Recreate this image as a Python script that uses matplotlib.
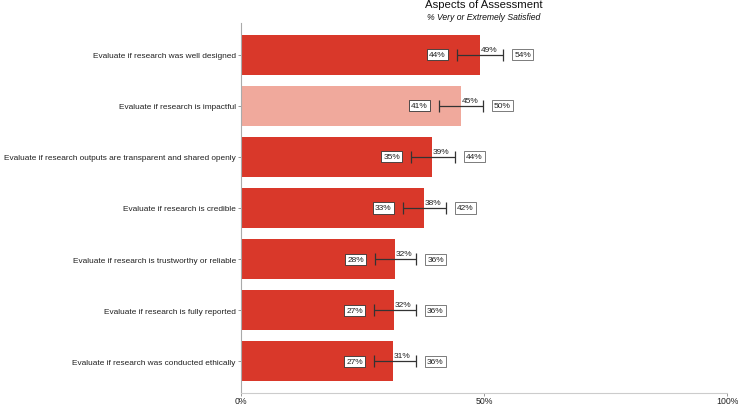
import matplotlib
matplotlib.use("Agg")
import matplotlib.pyplot as plt
import numpy as np

plt.rcParams['font.family'] = ['Liberation Sans', 'DejaVu Sans']

categories = [
    "Evaluate if research was well designed",
    "Evaluate if research is impactful",
    "Evaluate if research outputs are transparent and shared openly",
    "Evaluate if research is credible",
    "Evaluate if research is trustworthy or reliable",
    "Evaluate if research is fully reported",
    "Evaluate if research was conducted ethically",
]
means = [49.2, 45.3, 39.3, 37.7, 31.7, 31.5, 31.3]
lower = [44.4, 40.7, 35.0, 33.3, 27.6, 27.4, 27.4]
upper = [54.0, 49.8, 44.0, 42.2, 36.1, 36.0, 36.0]
mean_labels = ["49%", "45%", "39%", "38%", "32%", "32%", "31%"]
lower_labels = ["44%", "41%", "35%", "33%", "28%", "27%", "27%"]
upper_labels = ["54%", "50%", "44%", "42%", "36%", "36%", "36%"]
highlight = [False, True, False, False, False, False, False]

RED = "#d9382a"
LIGHT = "#f0a99c"

fig = plt.figure(figsize=(7.38, 4.06), dpi=100)
ax = fig.add_axes([241/738, 1 - 394/406, (727-241)/738, (394-24)/406])

y = np.arange(len(categories))
colors = [LIGHT if h else RED for h in highlight]
ax.barh(y, means, height=0.78, color=colors, zorder=1)

for i in range(len(categories)):
    ax.errorbar(means[i], y[i], xerr=[[means[i]-lower[i]], [upper[i]-means[i]]],
                fmt='none', ecolor='#333333', elinewidth=0.9, capsize=4, capthick=0.9, zorder=3)
    ax.annotate(mean_labels[i], (means[i], y[i]), xytext=(0.5, 1.5), textcoords='offset points',
                ha='left', va='bottom', fontsize=6, color='#222222', zorder=4)
    ax.annotate(lower_labels[i], (lower[i], y[i]), xytext=(-8, 0), textcoords='offset points',
                ha='right', va='center', fontsize=6, color='#222222', zorder=4,
                bbox=dict(boxstyle='square,pad=0.25', fc='white', ec='#333333', lw=0.6))
    ax.annotate(upper_labels[i], (upper[i], y[i]), xytext=(8, 0), textcoords='offset points',
                ha='left', va='center', fontsize=6, color='#222222', zorder=4,
                bbox=dict(boxstyle='square,pad=0.25', fc='white', ec='#666666', lw=0.6))

ax.set_xlim(0, 100)
ax.set_ylim(len(categories) - 1 + 0.62, -0.62)
ax.set_yticks(y)
ax.set_yticklabels(categories, fontsize=5.95, color='#222222')
ax.set_xticks([0, 50, 100])
ax.set_xticklabels(["0%", "50%", "100%"], fontsize=6.3, color='#222222')
ax.tick_params(axis='y', length=2.5, width=0.6, color='#888888', pad=1.2)
ax.tick_params(axis='x', length=2, width=0.6, color='#888888', pad=0.5)

for s in ['top', 'right']:
    ax.spines[s].set_visible(False)
ax.spines['left'].set_color('#aaaaaa')
ax.spines['left'].set_linewidth(0.8)
ax.spines['bottom'].set_color('#cccccc')
ax.spines['bottom'].set_linewidth(0.8)

cx = (241 + 727) / 2 / 738
fig.text(cx, 1 - 0/406, "Aspects of Assessment", ha='center', va='top', fontsize=8.2, color='#111111')
fig.text(cx, 1 - 13/406, "% Very or Extremely Satisfied", ha='center', va='top', fontsize=6.2, style='italic', color='#111111')

fig.savefig("out.png", dpi=100)
